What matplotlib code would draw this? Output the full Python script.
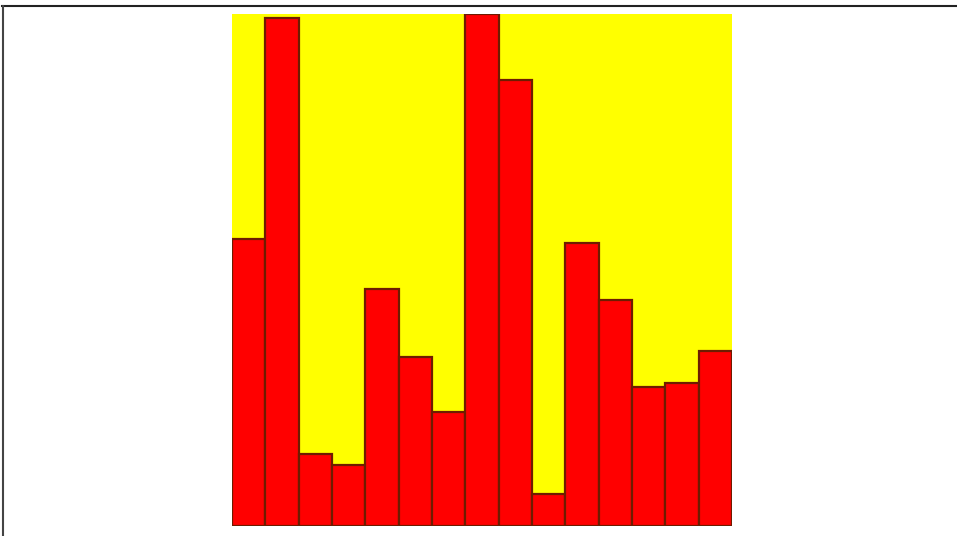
import matplotlib
matplotlib.use('Agg')
import matplotlib.pyplot as plt
from matplotlib.lines import Line2D

# Bar heights (tallest bar = 100)
categories = list(range(1, 16))
values = [56, 99.2, 13.9, 11.9, 46.1, 33.0, 22.1, 100, 87.1, 6.1, 55.1, 44.1, 27.0, 27.9, 34.0]

W, H = 957, 536
fig = plt.figure(figsize=(W / 100, H / 100), dpi=100)
fig.patch.set_facecolor('white')

# axes placed to match reference plot area
ax = fig.add_axes([232 / W, (H - 525.5) / H, 500 / W, 512 / H])
ax.set_facecolor('#ffff00')
ax.bar(categories, values, width=1.0, color='#ff0000', edgecolor='#6e1c00', linewidth=1.6)
ax.set_xlim(0.5, len(categories) + 0.5)
ax.set_ylim(0, max(values))
ax.set_xticks([])
ax.set_yticks([])
for s in ax.spines.values():
    s.set_visible(False)

# partial frame line at top and left of the figure
fig.add_artist(Line2D([2 / W, 1], [1 - 5.5 / H, 1 - 5.5 / H], color='#222222', linewidth=1.5))
fig.add_artist(Line2D([2.5 / W, 2.5 / W], [0, 1 - 5.5 / H], color='#444444', linewidth=1.5))

fig.savefig('out.png', dpi=100)
